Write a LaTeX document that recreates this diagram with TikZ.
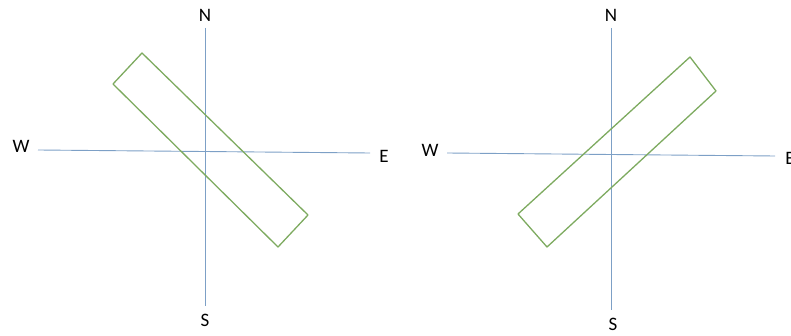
\documentclass[tikz,border=0pt]{standalone}
\usepackage{fontspec}
\setmainfont{Carlito}
\definecolor{axisblue}{RGB}{125,160,198}
\definecolor{rectgreen}{RGB}{125,170,95}
\begin{document}
\begin{tikzpicture}[x=1pt,y=-1pt,
  axis/.style={draw=axisblue,line width=0.9pt},
  plank/.style={draw=rectgreen,line width=1.3pt,line join=round},
  lbl/.style={font=\fontsize{19}{21}\selectfont,text=black,inner sep=0pt}]
\useasboundingbox (0,0) rectangle (791,336);
% left diagram
\node[lbl] (N1) at (205,15) {N};
\node[lbl] (S1) at (205,320) {S};
\node[lbl] (W1) at (21,146) {W};
\node[lbl] (E1) at (384,156) {E};
\coordinate (n1) at (205,28);
\coordinate (s1) at (205,306);
\coordinate (w1) at (38,150);
\coordinate (e1) at (370,153);
\draw[axis] (n1) -- (s1);
\draw[axis] (w1) -- (e1);
\coordinate (a1) at (142,53);
\coordinate (b1) at (113,84);
\coordinate (c1) at (278,247);
\coordinate (d1) at (308,215);
\draw[plank] (a1) -- (b1) -- (c1) -- (d1) -- cycle;
% right diagram
\node[lbl] (N2) at (611,15) {N};
\node[lbl] (S2) at (613,324) {S};
\node[lbl] (W2) at (430,150) {W};
\node[lbl] (E2) at (790,158) {E};
\coordinate (n2) at (611,28);
\coordinate (s2) at (611,310);
\coordinate (w2) at (447,153);
\coordinate (e2) at (775,156);
\draw[axis] (n2) -- (s2);
\draw[axis] (w2) -- (e2);
\coordinate (a2) at (690,57);
\coordinate (b2) at (716,91);
\coordinate (c2) at (547,247);
\coordinate (d2) at (518,214);
\draw[plank] (a2) -- (b2) -- (c2) -- (d2) -- cycle;
\end{tikzpicture}
\end{document}
